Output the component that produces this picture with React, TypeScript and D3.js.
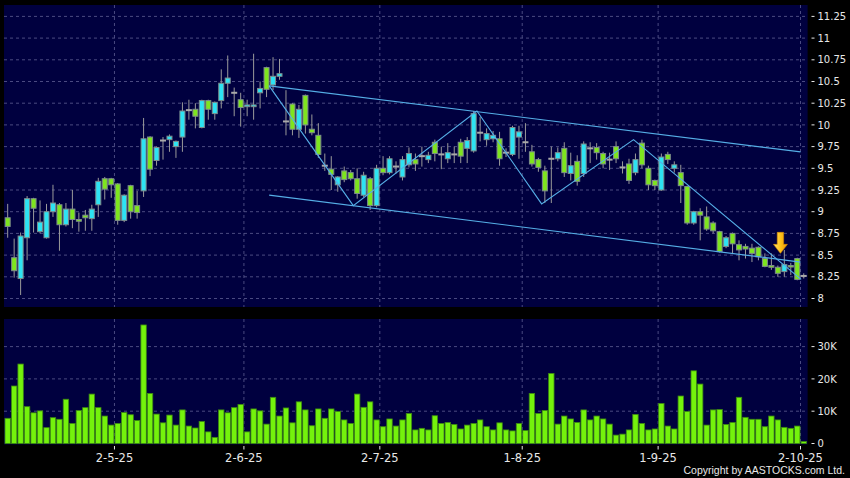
import React from 'react';
import * as d3 from 'd3';

// ---- data ----
const openP = [8.93,8.47,8.23,8.70,9.15,8.77,8.70,9.00,9.08,8.85,9.03,8.91,8.96,8.92,9.08,9.38,9.38,9.32,8.90,9.30,9.07,9.24,9.86,9.59,9.82,9.83,9.75,9.86,10.17,10.18,9.97,10.28,10.13,10.28,10.48,10.37,10.29,10.21,10.21,10.37,10.66,10.46,10.56,10.04,10.24,9.95,10.34,9.95,9.88,9.53,9.49,9.31,9.47,9.45,9.38,9.19,9.38,9.07,9.50,9.45,9.52,9.40,9.54,9.60,9.64,9.60,9.80,9.66,9.61,9.66,9.80,9.73,9.70,9.91,9.83,9.84,9.84,9.68,9.66,9.86,9.80,9.69,9.60,9.47,9.61,9.61,9.73,9.44,9.58,9.44,9.73,9.74,9.67,9.60,9.75,9.51,9.55,9.45,9.79,9.50,9.36,9.25,9.66,9.50,9.45,9.29,8.87,9.00,8.94,8.87,8.77,8.60,8.75,8.62,8.60,8.58,8.59,8.46,8.38,8.36,8.31,8.38,8.46,8.26];
const highP = [9.09,8.69,8.76,9.18,9.16,9.13,9.09,9.31,9.10,9.10,9.25,8.99,9.02,9.08,9.39,9.40,9.39,9.33,9.20,9.31,9.24,10.08,9.87,9.75,9.86,9.89,9.82,10.26,10.29,10.25,10.29,10.29,10.27,10.64,10.80,10.43,10.37,10.29,10.82,10.50,10.67,10.78,10.76,10.40,10.25,10.23,10.35,10.12,10.02,9.67,9.64,9.41,9.52,9.48,9.50,9.46,9.40,9.54,9.64,9.64,9.58,9.64,9.74,9.67,9.75,9.69,9.83,9.75,9.79,9.75,9.84,9.86,10.16,10.09,9.96,9.93,9.92,9.73,9.99,9.99,10.02,9.77,9.62,9.53,9.75,9.74,9.80,9.68,9.65,9.81,9.80,9.79,9.69,9.68,9.81,9.58,9.61,9.67,9.83,9.53,9.37,9.67,9.69,9.58,9.54,9.30,9.01,9.04,9.06,8.89,8.78,8.72,8.76,8.67,8.63,8.63,8.60,8.52,8.52,8.38,8.56,8.41,8.47,8.29];
const lowP = [8.70,8.24,8.04,8.44,8.76,8.75,8.69,8.94,8.55,8.83,8.81,8.77,8.78,8.78,8.94,9.14,9.16,8.85,8.88,8.92,8.92,9.17,9.41,9.53,9.60,9.69,9.62,9.69,10.06,9.96,9.96,10.06,10.06,10.19,10.32,10.10,9.98,10.10,10.06,10.19,10.32,10.40,10.52,9.88,9.88,9.85,9.90,9.88,9.62,9.47,9.25,9.23,9.34,9.36,9.15,9.17,9.02,9.05,9.42,9.43,9.44,9.36,9.51,9.47,9.52,9.56,9.58,9.49,9.56,9.56,9.56,9.56,9.68,9.81,9.76,9.80,9.53,9.63,9.64,9.61,9.69,9.52,9.46,9.10,9.10,9.58,9.40,9.36,9.30,9.40,9.56,9.60,9.50,9.48,9.56,9.44,9.32,9.42,9.50,9.25,9.25,9.24,9.55,9.45,9.10,8.85,8.85,8.67,8.78,8.75,8.53,8.58,8.52,8.44,8.46,8.42,8.44,8.36,8.33,8.25,8.25,8.27,8.21,8.23];
const closeP = [8.83,8.32,8.72,9.15,9.04,8.88,9.00,9.10,8.85,9.03,8.91,8.89,8.93,9.03,9.35,9.26,9.31,8.90,9.19,9.00,8.99,9.84,9.49,9.74,9.82,9.87,9.81,10.16,10.17,10.10,10.28,10.18,10.26,10.48,10.54,10.37,10.20,10.23,10.23,10.42,10.41,10.56,10.59,10.04,9.95,10.18,10.00,9.91,9.66,9.53,9.43,9.40,9.37,9.38,9.21,9.42,9.07,9.50,9.45,9.61,9.52,9.60,9.67,9.55,9.64,9.65,9.67,9.66,9.68,9.66,9.64,9.82,10.13,9.91,9.90,9.88,9.61,9.68,9.97,9.92,9.80,9.55,9.51,9.24,9.61,9.68,9.45,9.53,9.35,9.78,9.73,9.68,9.55,9.60,9.61,9.51,9.36,9.60,9.54,9.31,9.30,9.63,9.60,9.54,9.30,8.87,9.00,8.96,8.80,8.78,8.54,8.70,8.63,8.56,8.57,8.52,8.48,8.37,8.36,8.29,8.39,8.37,8.22,8.26];
const volumeK = [7.8,17.8,24.6,11.4,9.5,10.1,4.9,8.0,7.5,13.7,6.2,10.2,11.1,15.3,11.1,8.5,5.7,6.2,9.6,8.9,7.1,36.7,15.5,9.1,6.4,8.8,5.7,10.4,5.4,4.8,6.8,3.6,1.9,10.4,9.5,11.1,12.1,3.6,10.7,10.1,6.0,14.3,8.5,11.0,6.4,12.9,10.4,5.5,10.7,7.8,10.7,9.9,7.3,6.2,15.3,11.2,12.9,7.3,5.2,7.6,5.4,7.3,9.3,4.2,4.7,4.2,8.6,6.2,6.5,5.9,4.5,5.7,6.2,7.3,5.2,4.2,6.4,4.2,3.9,6.2,4.0,15.5,9.3,10.2,21.7,6.0,8.5,7.6,6.5,10.4,7.3,8.5,7.6,6.0,2.6,2.9,4.2,9.0,6.2,4.2,4.5,12.4,5.4,4.5,14.7,9.9,22.5,18.4,5.7,10.4,10.5,5.9,6.5,14.3,8.1,7.5,7.5,5.2,8.5,7.3,5.0,4.7,5.4,0.6];

const priceTicks = [8, 8.25, 8.5, 8.75, 9, 9.25, 9.5, 9.75, 10, 10.25, 10.5, 10.75, 11, 11.25];
const priceTickLabels = ['8', '8.25', '8.5', '8.75', '9', '9.25', '9.5', '9.75', '10', '10.25', '10.5', '10.75', '11', '11.25'];
const volTicks = [0, 10, 20, 30];
const volTickLabels = ['0', '10K', '20K', '30K'];
const monthStartIdx = [17, 37, 58, 80, 101, 123];
const monthLabels = ['2-5-25', '2-6-25', '2-7-25', '1-8-25', '1-9-25', '2-10-25'];

const upperIdx = [40.4, 122.5];
const upperPrice = [10.45, 9.69];
const lowerIdx = [40.4, 122.5];
const lowerPrice = [9.19, 8.42];
const zigIdx = [40.4, 53.4, 72.5, 82.5, 96.7, 122.6];
const zigPrice = [10.45, 9.07, 10.16, 9.09, 9.83, 8.22];
const arrowIdx = [119.4];
const arrowPrice = [8.52];

// ---- layout ----
const W = 850, H = 478;
const PL = 4, PR = 807.6;
const PT = 5, PB = 307;
const VT = 319, VB = 444.5;

const UP = '#2de3f3';
const DOWN = '#7ee51e';
const GRID = '#5d5d92';
const TXT = '#e8e8e8';
const LINE = '#55aee6';

export default function App() {
  const n = closeP.length;
  const x = d3.scaleLinear().domain([0, n - 1]).range([7.68, 7.68 + 6.472 * (n - 1)]);
  const slot = x(1) - x(0);
  const yP = d3.scaleLinear().domain([8, 11.25]).range([298.5, 16.4]);
  const yV = d3.scaleLinear().domain([0, 30]).range([443.5, 346.6]);
  const mk = (idx: number[], pr: number[]) =>
    d3.line<number>().x((d) => x(d)).y((_, i) => yP(pr[i]))(idx) || '';

  const gridX = monthStartIdx.map((i) => x(i) - slot / 2);
  const ax = x(arrowIdx[0]);
  const ay = yP(arrowPrice[0]);

  return (
    <svg width={W} height={H} style={{ position: 'absolute', left: 0, top: 0, background: '#000' }}
      fontFamily="DejaVu Sans, Verdana, sans-serif">
      <defs>
        <linearGradient id="arr" x1="0" x2="1" y1="0" y2="0">
          <stop offset="0" stopColor="#ffe566" />
          <stop offset="0.5" stopColor="#ffc21a" />
          <stop offset="1" stopColor="#e89400" />
        </linearGradient>
      </defs>
      <rect x={0} y={0} width={W} height={H} fill="#000" />
      {/* panels */}
      <rect x={PL} y={PT} width={PR - PL} height={PB - PT} fill="#00003f" />
      <rect x={PL} y={VT} width={PR - PL} height={VB - VT} fill="#00003f" />

      {/* price grid */}
      {priceTicks.map((t) => (
        <line key={'pg' + t} x1={PL} x2={PR} y1={yP(t)} y2={yP(t)} stroke={GRID} strokeDasharray="3,3" strokeWidth={0.8} />
      ))}
      {gridX.map((gx, k) => (
        <line key={'vg' + k} x1={gx} x2={gx} y1={PT} y2={PB} stroke={GRID} strokeDasharray="3,3" strokeWidth={0.8} />
      ))}
      {/* volume grid */}
      {volTicks.filter((t) => t > 0).map((t) => (
        <line key={'vgh' + t} x1={PL} x2={PR} y1={yV(t)} y2={yV(t)} stroke={GRID} strokeDasharray="3,3" strokeWidth={0.8} />
      ))}
      {gridX.map((gx, k) => (
        <line key={'vgv' + k} x1={gx} x2={gx} y1={VT} y2={VB} stroke={GRID} strokeDasharray="3,3" strokeWidth={0.8} />
      ))}

      {/* candles */}
      {closeP.map((c, i) => {
        const o = openP[i];
        const cx = x(i);
        const doji = Math.abs(c - o) < 0.005;
        const top = yP(Math.max(o, c));
        const bot = yP(Math.min(o, c));
        return (
          <g key={'c' + i}>
            <line x1={cx} x2={cx} y1={yP(highP[i])} y2={yP(lowP[i])} stroke="#9a9a9a" strokeWidth={1} />
            {doji ? (
              <rect x={cx - 3} y={top - 1} width={6} height={2} fill="#a9a9a9" />
            ) : (
              <rect x={cx - 2.5} y={top} width={5} height={Math.max(1.5, bot - top)}
                fill={c > o ? UP : DOWN} stroke="#7d8c8c" strokeWidth={1} />
            )}
          </g>
        );
      })}

      {/* trend lines */}
      <path d={mk(upperIdx, upperPrice)} stroke={LINE} strokeWidth={1.2} fill="none" />
      <path d={mk(lowerIdx, lowerPrice)} stroke={LINE} strokeWidth={1.2} fill="none" />
      <path d={mk(zigIdx, zigPrice)} stroke={LINE} strokeWidth={1.1} fill="none" />

      {/* arrow */}
      <path
        d={`M${ax - 3.2},${ay - 21} L${ax + 3.2},${ay - 21} L${ax + 3.2},${ay - 9} L${ax + 7},${ay - 9} L${ax},${ay} L${ax - 7},${ay - 9} L${ax - 3.2},${ay - 9} Z`}
        fill="url(#arr)" stroke="#d88a00" strokeWidth={0.6}
      />

      {/* volume bars */}
      {volumeK.map((v, i) => (
        <rect key={'v' + i} x={x(i) - 2.7} y={yV(v)} width={5.4} height={Math.max(0.5, yV(0) - yV(v))}
          fill="#74f20c" stroke="#3d8a12" strokeWidth={0.8} />
      ))}

      {/* price axis */}
      {priceTicks.map((t, k) => (
        <g key={'pt' + t}>
          <line x1={811.5} x2={814.5} y1={yP(t)} y2={yP(t)} stroke={TXT} strokeWidth={1} />
          <text x={817.5} y={yP(t)} dy="0.36em" fontSize={10} fill={TXT}>{priceTickLabels[k]}</text>
        </g>
      ))}
      {/* volume axis */}
      {volTicks.map((t, k) => (
        <g key={'vt' + t}>
          <line x1={811.5} x2={814.5} y1={yV(t)} y2={yV(t)} stroke={TXT} strokeWidth={1} />
          <text x={817.5} y={yV(t)} dy="0.36em" fontSize={10} fill={TXT}>{volTickLabels[k]}</text>
        </g>
      ))}
      {/* date axis */}
      {gridX.map((gx, k) => (
        <g key={'dt' + k}>
          <line x1={gx} x2={gx} y1={446} y2={449.5} stroke={TXT} strokeWidth={1} />
          <text x={gx} y={462} textAnchor="middle" fontSize={11.5} fill={TXT}>{monthLabels[k]}</text>
        </g>
      ))}
      <text x={845} y={474} textAnchor="end" fontSize={10.5} fill={TXT}
        fontFamily="Liberation Sans, Arial, sans-serif">
        Copyright by AASTOCKS.com Ltd.
      </text>
    </svg>
  );
}
